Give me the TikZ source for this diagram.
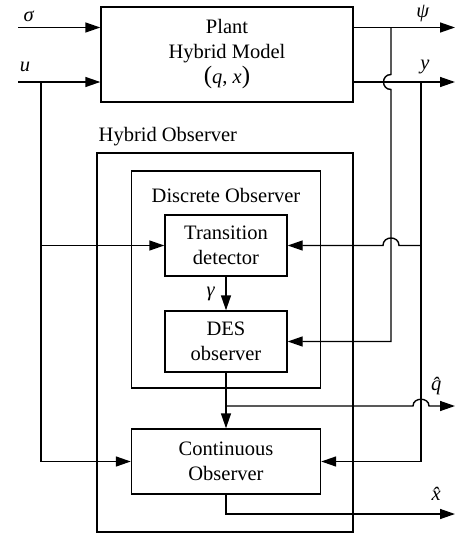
\documentclass[tikz,border=0pt]{standalone}
\usepackage{fontspec}
\setmainfont{Liberation Serif}
\usetikzlibrary{arrows.meta}
\begin{document}
\begin{tikzpicture}[x=1pt,y=-1pt, line width=1.4pt,
 box/.style={draw, rectangle, inner sep=0pt, align=center, font=\fontsize{20.5}{25}\selectfont},
 lbl/.style={inner sep=0pt, font=\fontsize{20.5}{25}\selectfont},
 arr/.style={-{Triangle[length=15pt,width=10pt]}}]
\useasboundingbox (0,0) rectangle (456,536);
% boxes
\node[box, minimum width=252pt, minimum height=95pt] (plant) at (227,54.5) {Plant\\Hybrid Model\\{\fontsize{25}{25}\selectfont(}\textit{q}, \textit{x}{\fontsize{25}{25}\selectfont)}};
\node[box, minimum width=256pt, minimum height=379pt] (hyb) at (225,342.5) {};
\node[box, minimum width=189pt, minimum height=217pt] (disc) at (226,279.5) {};
\node[box, minimum width=122pt, minimum height=61pt] (td) at (226,245.5) {Transition\\detector};
\node[box, minimum width=122pt, minimum height=61pt] (des) at (226,341.5) {DES\\observer};
\node[box, minimum width=189pt, minimum height=65pt] (co) at (226,461.5) {Continuous\\Observer};
% labels
\node[lbl, anchor=west] (hyblbl) at (98,137) {Hybrid Observer};
\node[lbl] (disclbl) at (226,195) {Discrete Observer};
\node[lbl] (sig) at (29,16) {\textit{σ}};
\node[lbl] (ulbl) at (25,67) {\textit{u}};
\node[lbl] (psi) at (423,14) {\textit{ψ}};
\node[lbl] (ylbl) at (425,67) {\textit{y}};
\node[lbl] (gam) at (211,294) {\textit{γ}};
\node[lbl] (qh) at (440,386) {\textit{\^{q}}};
\node[lbl] (xh) at (440,494) {\textit{\^{x}}};
% coordinates
\coordinate (sigin) at (18,27.5);
\coordinate (uin) at (18,82);
\coordinate (ujn) at (41,82);
\coordinate (psiout) at (455,27.5);
\coordinate (yout) at (455,82);
\coordinate (psijn) at (391,27.5);
\coordinate (yjn) at (421,82);
\coordinate (qjn) at (226,406);
\coordinate (qout) at (455,406);
\coordinate (xout) at (455,514);
% plant inputs/outputs
\draw[arr] (sigin) -- (sigin -| plant.west);
\draw[arr] (uin) -- (uin -| plant.west);
\draw[arr] (plant.east |- psiout) -- (psiout);
\draw[arr] (plant.east |- yout) -- (yout);
% u feed
\draw[arr] (ujn) -- (ujn |- co.west) -- (co.west);
\draw[arr] (ujn |- td.west) -- (td.west);
% psi feed to DES with jump over y
\draw[arr] (psijn) -- (391,74.5) .. controls (381,74.5) and (381,89.5) .. (391,89.5) -- (391,341.5) -- (des.east);
% y feed
\draw[arr] (yjn) -- (yjn |- co.east) -- (co.east);
\draw[arr] (yjn |- td.east) -- (399,245.5) .. controls (399,235.5) and (383,235.5) .. (383,245.5) -- (td.east);
% internal
\draw[arr] (td.south) -- (des.north);
\draw[arr] (des.south) -- (co.north);
\draw[arr] (qjn) -- (413,406) .. controls (413,397) and (429,397) .. (429,406) -- (qout);
\draw[arr] (co.south) |- (xout);
\end{tikzpicture}
\end{document}
